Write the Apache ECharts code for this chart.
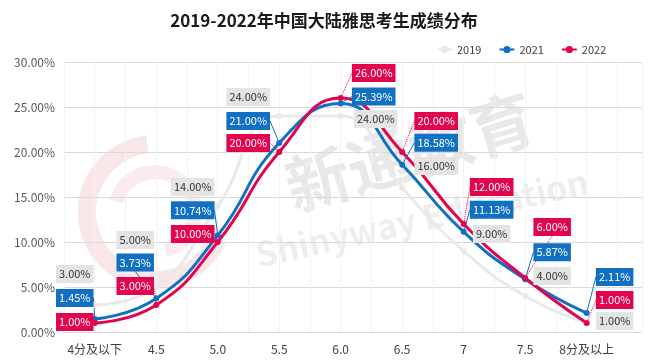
<!DOCTYPE html>
<html>
<head>
<meta charset="utf-8">
<script src="https://cdn.jsdelivr.net/npm/echarts@6/dist/echarts.min.js"></script>
<style>
html,body{margin:0;padding:0;background:#fff;}
#chart{width:648px;height:362px;}
</style>
</head>
<body>
<div id="chart"></div>
<script>
// ---- data ----
const categories = ['4分及以下', '4.5', '5.0', '5.5', '6.0', '6.5', '7', '7.5', '8分及以上'];
const seriesNames = ['2019', '2021', '2022'];
const values2019 = [3.00, 5.00, 14.00, 24.00, 24.00, 16.00, 9.00, 4.00, 1.00];
const values2021 = [1.45, 3.73, 10.74, 21.00, 25.39, 18.58, 11.13, 5.87, 2.11];
const values2022 = [1.00, 3.00, 10.00, 20.00, 26.00, 20.00, 12.00, 6.00, 1.00];
const yTicks = [0, 5, 10, 15, 20, 25, 30];

// ---- layout (label shifts in px from each point) ----
const labelShift = [
  [[-20,-31],[-21,-47],[-25,-19],[-31,-19],[35,3],[34,-22],[28,-17],[27,-20],[28,-2]],
  [[-20,-21],[-21,-36],[-25,-25],[-31,-22],[33,-7],[34,-22],[28,-22],[27,-27],[28,-36]],
  [[-20,-1],[-21,-19],[-25,-8],[-31,-9],[33,-25],[34,-31],[28,-37],[27,-51],[28,-23]]
];
const colors = ['#e9e9e9', '#1170c4', '#e2044f'];
const labelBg = ['#e4e4e4', '#1170c4', '#e2044f'];
const labelColor = ['#333333', '#ffffff', '#ffffff'];

const FONT = '"Noto Sans CJK SC", "Noto Sans", sans-serif';
const chart = echarts.init(document.getElementById('chart'), null, {renderer: 'canvas'});

function toPoints(vals) { return vals.map((v, i) => [i, v]); }
const allValues = [values2019, values2021, values2022];

const series = allValues.map((vals, s) => ({
  name: seriesNames[s],
  type: 'line',
  smooth: 0.5,
  data: toPoints(vals),
  symbol: 'circle',
  symbolSize: 6,
  z: 2,
  lineStyle: {width: 3, color: colors[s]},
  itemStyle: {color: colors[s]},
  label: {
    show: true,
    position: 'inside',
    formatter: p => p.value[1].toFixed(2) + '%',
    color: labelColor[s],
    backgroundColor: labelBg[s],
    padding: [4, 3, 3, 3],
    fontSize: 11,
    fontFamily: FONT
  },
  labelLine: s === 0 ? {show: false} : {
    show: true,
    lineStyle: {color: colors[s], width: 1, type: s === 2 ? 'dotted' : 'solid'}
  },
  labelLayout: function (params) {
    const sh = labelShift[s][params.dataIndex];
    return {dx: sh[0], dy: sh[1]};
  },
  emphasis: {disabled: true}
}));

const option = {
  animation: false,
  backgroundColor: '#ffffff',
  textStyle: {fontFamily: FONT},
  title: {
    text: '2019-2022年中国大陆雅思考生成绩分布',
    left: 'center',
    top: 7,
    textStyle: {fontSize: 17, fontWeight: 'bold', color: '#1a1a1a', fontFamily: FONT}
  },
  legend: {
    data: seriesNames,
    left: 431,
    top: 39,
    itemWidth: 15,
    itemHeight: 9,
    itemGap: 17,
    textStyle: {fontSize: 11, color: '#404040', fontFamily: FONT}
  },
  graphic: [
    {type: 'arc', z: -10, shape: {cx: 155, cy: 212, r: 68, startAngle: 0.4, endAngle: 4.6},
     style: {stroke: 'rgba(225,130,140,0.20)', lineWidth: 18, fill: null}},
    {type: 'arc', z: -10, shape: {cx: 155, cy: 212, r: 40, startAngle: 3.4, endAngle: 7.6},
     style: {stroke: 'rgba(225,130,140,0.16)', lineWidth: 14, fill: null}},
    {type: 'text', z: -10, x: 410, y: 152, rotation: 0.29,
     style: {text: '新通教育', fontSize: 64, fontWeight: 'bold', fill: 'rgba(0,0,0,0.09)', align: 'center', verticalAlign: 'middle', fontFamily: FONT}},
    {type: 'text', z: -10, x: 422, y: 218, rotation: 0.22,
     style: {text: 'Shinyway Education', fontSize: 34, fontWeight: 'bold', fill: 'rgba(0,0,0,0.07)', align: 'center', verticalAlign: 'middle', fontFamily: FONT}}
  ],
  grid: {left: 64, right: 6, top: 62, bottom: 30, containLabel: false},
  xAxis: {
    type: 'value',
    min: -0.5,
    max: 8.9,
    interval: 0.5,
    axisLine: {show: false},
    axisTick: {show: false},
    splitLine: {show: true, lineStyle: {color: '#f2f2f2', width: 1}},
    axisLabel: {
      color: '#404040',
      fontSize: 12,
      margin: 11,
      fontFamily: FONT,
      showMinLabel: true,
      showMaxLabel: true,
      formatter: v => (Number.isInteger(v) && v >= 0 && v < categories.length) ? categories[v] : ''
    }
  },
  yAxis: {
    type: 'value',
    min: yTicks[0],
    max: yTicks[yTicks.length - 1],
    interval: yTicks[1] - yTicks[0],
    axisLine: {show: false},
    axisTick: {show: false},
    splitLine: {lineStyle: {color: '#d9d9d9', width: 1}},
    axisLabel: {color: '#595959', fontSize: 12, margin: 9, fontFamily: FONT,
      formatter: v => v.toFixed(2) + '%'}
  },
  series: series
};
chart.setOption(option);
</script>
</body>
</html>
